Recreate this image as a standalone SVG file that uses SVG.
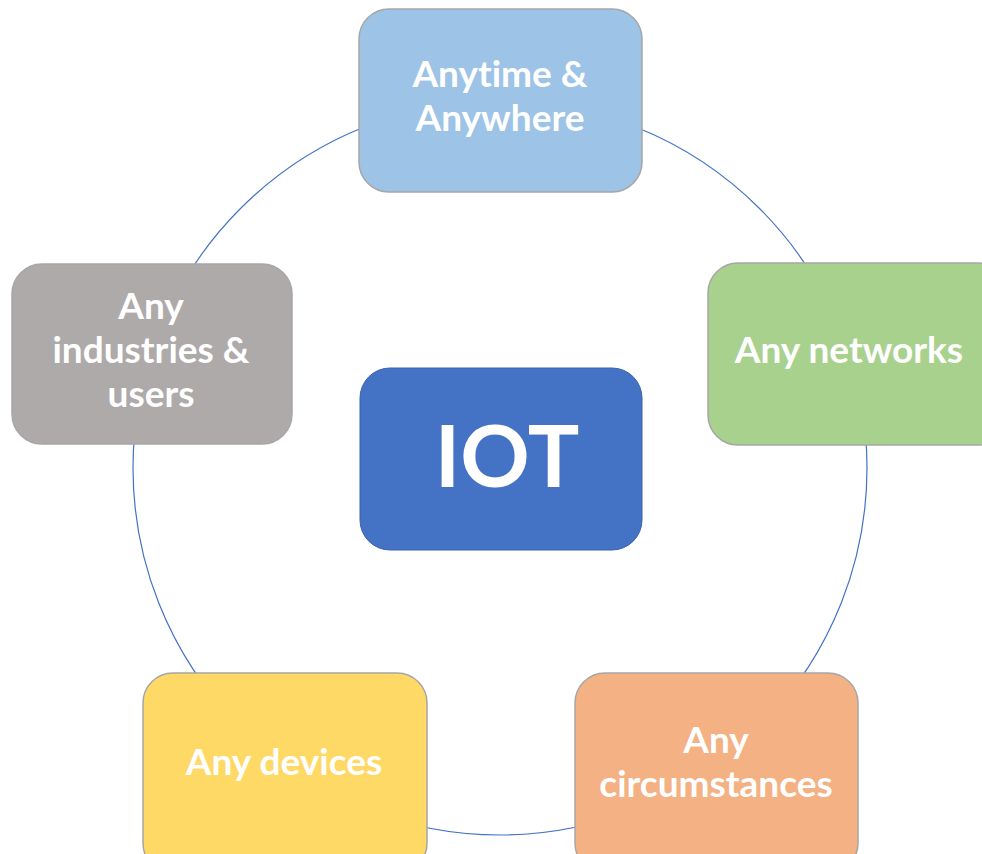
<svg xmlns="http://www.w3.org/2000/svg" width="982" height="854" viewBox="0 0 982 854">
<style>
.box{stroke:#A6A6A6;stroke-width:1.5}
.t{font-family:Lato,"Open Sans",sans-serif;font-weight:bold;font-size:37px;fill:#FFFFFF;text-anchor:middle;font-variant-ligatures:none}
</style>
<rect width="982" height="854" fill="#FFFFFF"/>
<g id="connectors">
<circle cx="500" cy="468" r="367" fill="none" stroke="#4472C4" stroke-width="1.2"/>
</g>
<g id="top">
<rect class="box" x="359" y="9" width="283" height="183" rx="30" fill="#9DC3E6"/>
<text class="t" x="500" y="87">Anytime &amp;</text>
<text class="t" x="500" y="131">Anywhere</text>
</g>
<g id="right">
<rect class="box" x="708" y="263" width="300" height="182" rx="30" fill="#A9D18E"/>
<text class="t" x="849" y="363">Any networks</text>
</g>
<g id="left">
<rect class="box" x="12" y="264" width="280" height="180" rx="30" fill="#AEAAAA"/>
<text class="t" x="151" y="319">Any</text>
<text class="t" x="151" y="363">industries &amp;</text>
<text class="t" x="151" y="407">users</text>
</g>
<g id="bottomleft">
<rect class="box" x="143" y="673" width="284" height="200" rx="30" fill="#FFD966"/>
<text class="t" x="284" y="775">Any devices</text>
</g>
<g id="bottomright">
<rect class="box" x="575" y="673" width="283" height="200" rx="30" fill="#F4B183"/>
<text class="t" x="716" y="753">Any</text>
<text class="t" x="716" y="797">circumstances</text>
</g>
<g id="center">
<rect x="360" y="368" width="282" height="182" rx="30" fill="#4472C4" stroke="#3A63AC" stroke-width="1"/>
<text class="t" x="507" y="487" style="font-size:86px">IOT</text>
</g>
</svg>
